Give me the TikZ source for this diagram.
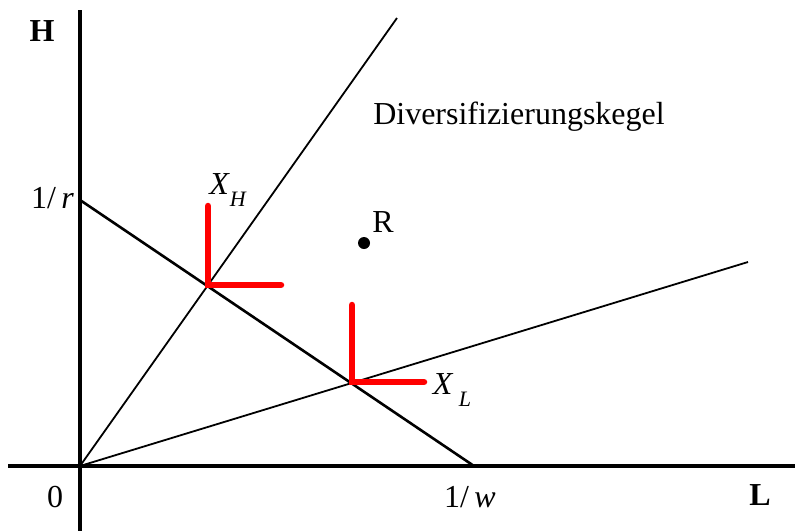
\documentclass[tikz,border=0pt]{standalone}
\usepackage{fontspec}
\setmainfont{Liberation Serif}
\newcommand{\sub}[1]{\raisebox{-0.35em}{\fontsize{22}{24}\selectfont\textit{#1}}}

\begin{document}
\begin{tikzpicture}[x=1pt,y=-1pt,
  axis/.style={black, line width=3.5pt},
  ray/.style={black, line width=1.8pt},
  budget/.style={black, line width=2.6pt},
  corner/.style={red, line width=6.5pt, line cap=round, line join=miter},
  lbl/.style={font=\fontsize{32}{38}\selectfont, inner sep=0pt}]
\useasboundingbox (0,0) rectangle (795,531);
% axes
\coordinate (O) at (80,466);
\coordinate (ytop) at (80,10);
\coordinate (ybot) at (80,531);
\coordinate (xleft) at (8,466);
\coordinate (xright) at (795,466);
\draw[axis] (ytop) -- (ybot);
\draw[axis] (xleft) -- (xright);
% rays of the cone
\coordinate (Hend) at (397,18);
\coordinate (Lend) at (748,262);
\draw[ray] (O) -- (Hend);
\draw[ray] (O) -- (Lend);
% unit cost line
\coordinate (r) at (80,200);
\coordinate (w) at (474,466);
\draw[budget] (r) -- (w);
% factor intensities
\coordinate (XH) at (208,285);
\coordinate (XL) at (352,382);
\coordinate (XHtop) at (208,206);
\coordinate (XHright) at (281,285);
\coordinate (XLtop) at (352,305);
\coordinate (XLright) at (424,382);
\draw[corner] (XHtop) -- (XH) -- (XHright);
\draw[corner] (XLtop) -- (XL) -- (XLright);
% endowment point
\fill[black] (364,243) circle (6);
% labels
\node[lbl] (labH) at (42,31) {\textbf{H}};
\node[lbl] (labL) at (760,495) {\textbf{L}};
\node[lbl] (lab0) at (55,497) {0};
\node[lbl, anchor=east] (labr) at (74,198) {1/\,\textit{r}};
\node[lbl] (labw) at (470,497) {1/\,\textit{w}};
\node[lbl] (labXH) at (228,190) {\textit{X}\sub{H}};
\node[lbl] (labXL) at (452,390) {\textit{X}\,\sub{L}};
\node[lbl] (labR) at (383,222) {R};
\node[lbl] (labcone) at (519,117) {Diversifizierungskegel};
\end{tikzpicture}
\end{document}
